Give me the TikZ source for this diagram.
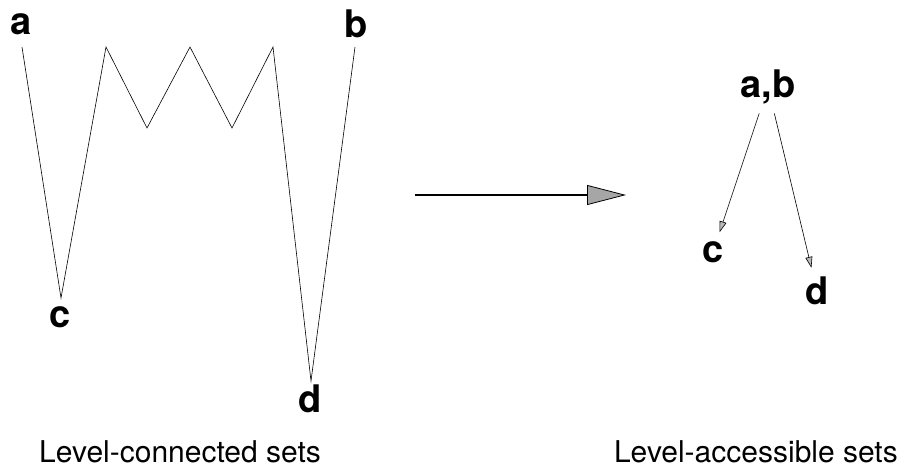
\documentclass[tikz,border=0pt]{standalone}
\usepackage{fontspec}
\setmainfont{TeX Gyre Heros}
\usetikzlibrary{arrows.meta}
\tikzset{
    lbl/.style={font=\bfseries\fontsize{38}{40}\selectfont, inner sep=0pt},
    caption/.style={font=\fontsize{30}{32}\selectfont, inner sep=0pt, anchor=base},
    edge/.style={line width=0.6pt, -{Triangle[length=11pt,width=7pt,fill=gray!55]}, shorten >=1pt}
}
\begin{document}
\begin{tikzpicture}[x=1pt, y=-1pt]
    \useasboundingbox (0,0) rectangle (903,467);
    % level-connected sets
    \coordinate (ta) at (22,47);
    \coordinate (bc) at (61,298);
    \coordinate (bd) at (311,381);
    \coordinate (tb) at (355,47);
    \draw[line width=0.6pt] (ta) -- (bc) -- (106,47) -- (147,128) -- (190,47) -- (232,128) -- (273,47) -- (bd) -- (tb);
    \node[lbl] (a) at (21,24) {a};
    \node[lbl] (b) at (356,24) {b};
    \node[lbl] (c) at (60,317) {c};
    \node[lbl] (d) at (310,399) {d};
    \node[caption] (left) at (180,462) {Level-connected sets};
    % arrow
    \coordinate (from) at (415,195);
    \coordinate (to) at (626,195);
    \draw[line width=1.4pt, -{Triangle[length=39pt,width=20pt,line width=0.8pt,fill=gray!70]}] (from) -- (to);
    % level-accessible sets
    \node[lbl, inner sep=9pt] (ab) at (768,87) {a,b};
    \node[lbl, inner sep=8pt] (tc) at (713,252) {c};
    \node[lbl, inner sep=8pt] (td) at (817,291) {d};
    \draw[edge] (ab) -- (tc);
    \draw[edge] (ab) -- (td);
    \node[caption, anchor=base east] (right) at (898,462) {Level-accessible sets};
\end{tikzpicture}
\end{document}
